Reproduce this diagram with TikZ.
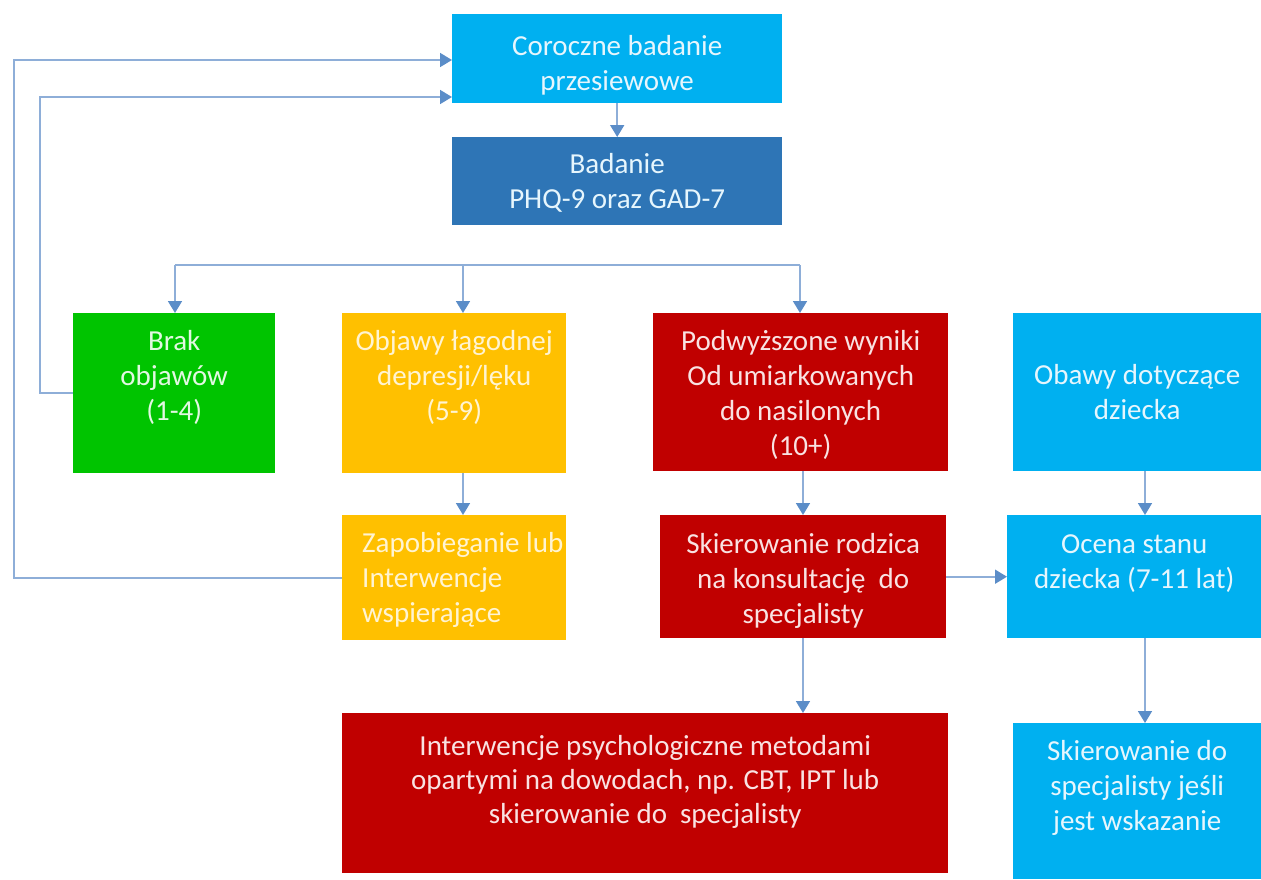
\documentclass[tikz,border=0pt]{standalone}
\usepackage{fontspec}
\setmainfont{Carlito}
\usetikzlibrary{arrows.meta}
\definecolor{cLight}{HTML}{00B0F0}
\definecolor{cDark}{HTML}{2E75B6}
\definecolor{cGreen}{HTML}{00C400}
\definecolor{cYellow}{HTML}{FFC000}
\definecolor{cRed}{HTML}{C00000}
\definecolor{tLight}{HTML}{E6F6FD}
\definecolor{tGreen}{HTML}{E2F8E2}
\definecolor{tYellow}{HTML}{FFF4D2}
\definecolor{tRed}{HTML}{F9E2E2}
\definecolor{lineC}{HTML}{8EAED8}
\definecolor{headC}{HTML}{5B8DC8}
\newcommand\toptext[4]{\parbox[c][#2pt][t]{#1pt}{\centering\vspace*{#3pt}\strut #4}}
\begin{document}
\begin{tikzpicture}[x=1pt,y=-1pt,
  blk/.style={rectangle, inner sep=0pt, anchor=north west, align=center,
    font=\fontsize{29}{35}\selectfont},
  bluebox/.style={blk, fill=cLight, text=tLight},
  darkbox/.style={blk, fill=cDark, text=tLight},
  greenbox/.style={blk, fill=cGreen, text=tGreen},
  yellowbox/.style={blk, fill=cYellow, text=tYellow},
  redbox/.style={blk, fill=cRed, text=tRed},
  ln/.style={draw=lineC, line width=1.7pt},
  arr/.style={ln, -{Triangle[color=headC,width=14pt,length=12pt]}}]
\useasboundingbox (0,0) rectangle (1261,879);

\node[bluebox] (n1) at (452,14)
  {\toptext{330}{89}{16.5}{Coroczne badanie\\przesiewowe}};
\node[darkbox] (n2) at (452,137)
  {\toptext{330}{88}{11.5}{Badanie\\PHQ-9 oraz GAD-7}};
\node[greenbox] (n3) at (73,313)
  {\toptext{202}{160}{12.5}{Brak\\objawów\\(1-4)}};
\node[yellowbox] (n4) at (342,313)
  {\toptext{224}{160}{12.5}{Objawy łagodnej\\depresji/lęku\\(5-9)}};
\node[redbox] (n5) at (653,313)
  {\toptext{295}{158}{12.5}{Podwyższone wyniki\\Od umiarkowanych\\do nasilonych\\(10+)}};
\node[bluebox] (n6) at (1013,313)
  {\toptext{248}{158}{46.5}{Obawy dotyczące\\dziecka}};
\node[yellowbox, minimum width=224, minimum height=125] (n7) at (342,515)
  {\parbox{184pt}{\strut\mbox{Zapobieganie lub}\\Interwencje\\wspierające}};
\node[redbox] (n8) at (660,515)
  {\toptext{286}{123}{13.5}{Skierowanie rodzica\\na konsultację~ do\\specjalisty}};
\node[bluebox] (n9) at (1007,515)
  {\toptext{254}{123}{13.5}{Ocena stanu\\dziecka (7-11 lat)}};
\node[redbox] (n10) at (342,713)
  {\toptext{606}{160}{17.5}{Interwencje psychologiczne metodami\\[-1pt]opartymi na dowodach, np. CBT, IPT lub\\[-1pt]skierowanie do~ specjalisty}};
\node[bluebox] (n11) at (1013,723)
  {\toptext{248}{156}{12.5}{Skierowanie do\\specjalisty jeśli\\jest wskazanie}};

% connectors
\draw[arr] (n1) -- (n2);
\coordinate (bL) at (175,265);
\coordinate (bM) at (463,265);
\coordinate (bR) at (800,265);
\draw[ln] (bL) -- (bR);
\draw[arr] (bL) -- (bL |- n3.north);
\draw[arr] (bM) -- (bM |- n4.north);
\draw[arr] (bR) -- (bR |- n5.north);
\draw[arr] (bM |- n4.south) -- (bM |- n7.north);
\coordinate (cR) at (803,0);
\draw[arr] (cR |- n5.south) -- (cR |- n8.north);
\draw[arr] (cR |- n8.south) -- (cR |- n10.north);
\draw[arr] (n8.east) -- (n8.east -| n9.west);
\coordinate (cB) at (1145,0);
\draw[arr] (cB |- n6.south) -- (cB |- n9.north);
\draw[arr] (cB |- n9.south) -- (cB |- n11.north);
\coordinate (o1) at (14,60);
\coordinate (o2) at (40,97);
\draw[arr] (n7.west) -| (o1) -- (o1 -| n1.west);
\draw[arr] (n3.west) -| (o2) -- (o2 -| n1.west);
\end{tikzpicture}
\end{document}
